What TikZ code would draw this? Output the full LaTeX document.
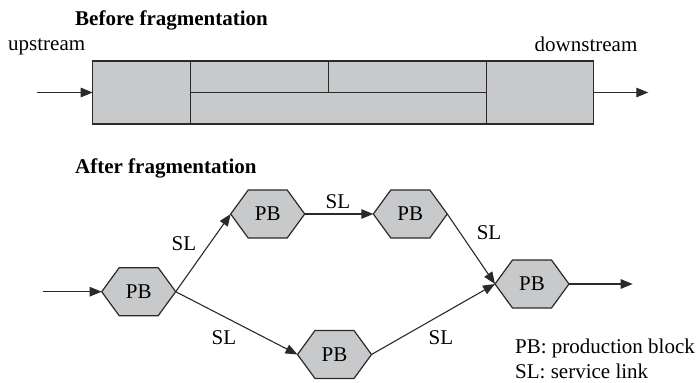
\documentclass[tikz,border=0pt]{standalone}
\usepackage{fontspec}
\setmainfont{Liberation Serif}
\usetikzlibrary{arrows.meta,backgrounds}
\definecolor{blockfill}{HTML}{C8C9CB}
\definecolor{inkline}{HTML}{2A2A2A}
\tikzset{
  txt/.style={font=\fontsize{21}{21}\selectfont, inner sep=0pt, text=black},
  title/.style={font=\fontsize{21}{21}\selectfont\bfseries, inner sep=0pt, anchor=base west},
  cell/.style={draw=inkline, fill=blockfill, line width=1.2pt, inner sep=0pt, outer sep=0pt, anchor=north west},
  pbnode/.style={txt, minimum width=74pt, minimum height=48pt, outer sep=0pt},
  hexagon/.style={draw=inkline, fill=blockfill, line width=1.2pt, line join=miter},
  link/.style={draw=inkline, line width=1.1pt, -{Triangle[length=12pt,width=9.5pt]}},
}
\begin{document}
\begin{tikzpicture}[x=1pt,y=-1pt]
  \useasboundingbox (0,0) rectangle (697,383);

  % --- before fragmentation: one long production line ---
  \node[title] (t1) at (75,25) {Before fragmentation};
  \node[txt, anchor=base west] (up) at (8,50.5) {upstream};
  \node[txt, anchor=base west] (down) at (534.5,51) {downstream};

  \node[cell, minimum width=98pt,  minimum height=63pt]   (c1) at (92.7,61) {};
  \node[cell, minimum width=137.6pt, minimum height=31.7pt] (c2) at (190.7,61) {};
  \node[cell, minimum width=158.4pt, minimum height=31.7pt] (c3) at (328.3,61) {};
  \node[cell, minimum width=296pt, minimum height=31.3pt] (c4) at (190.7,92.7) {};
  \node[cell, minimum width=106.6pt, minimum height=63pt]   (c5) at (486.7,61) {};

  \coordinate (inA) at (36.7,92.5);
  \coordinate (outA) at (648.3,92.5);
  \draw[link] (inA) -- (c1.west);
  \draw[link] (c5.east) -- (outA);

  % --- after fragmentation: production blocks joined by service links ---
  \node[title] (t2) at (75,173.3) {After fragmentation};

  \node[pbnode] (p1) at (138.7,291.7) {PB};
  \node[pbnode] (p2) at (267.7,214) {PB};
  \node[pbnode] (p3) at (410.3,214) {PB};
  \node[pbnode] (p4) at (532,284) {PB};
  \node[pbnode] (p5) at (334.5,354.5) {PB};

  \begin{scope}[on background layer]
    \foreach \n in {p1,p2,p3,p4,p5}
      \path[hexagon] (\n.west) -- ([xshift=17.5pt]\n.north west) -- ([xshift=-17.5pt]\n.north east)
        -- (\n.east) -- ([xshift=-17.5pt]\n.south east) -- ([xshift=17.5pt]\n.south west) -- cycle;
  \end{scope}

  \coordinate (inB) at (43.3,291.7);
  \coordinate (outB) at (632.7,284);
  \draw[link] (inB) -- (p1.west);
  \draw[link] (p1.east) -- (p2.west);
  \draw[link] (p1.east) -- (p5.west);
  \draw[link] (p2.east) -- (p3.west);
  \draw[link] (p3.east) -- (p4.west);
  \draw[link] (p5.east) -- (p4.west);
  \draw[link] (p4.east) -- (outB);

  \node[txt] (sl1) at (184,244) {SL};
  \node[txt] (sl2) at (338,201.5) {SL};
  \node[txt] (sl3) at (489,233) {SL};
  \node[txt] (sl4) at (224,337.5) {SL};
  \node[txt] (sl5) at (441,338) {SL};

  % legend
  \node[txt, anchor=base west] (leg1) at (515,353.3) {PB: production block};
  \node[txt, anchor=base west] (leg2) at (515,378) {SL: service link};
\end{tikzpicture}
\end{document}
